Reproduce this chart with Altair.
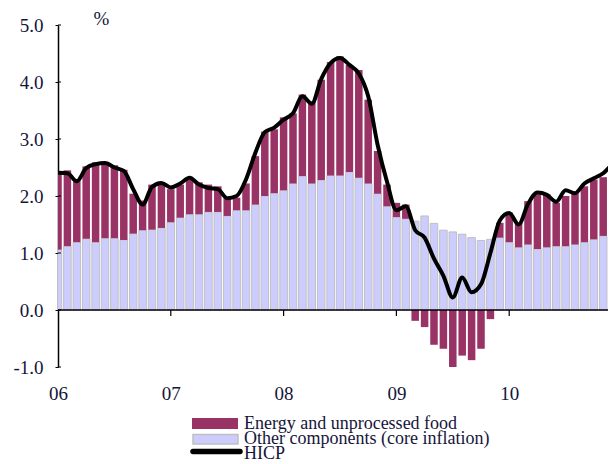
import altair as alt
import pandas as pd

# ---------------- data ----------------
years = ["06", "07", "08", "09", "10"]

# Other components (core inflation), contribution, monthly Jan-06 .. Dec-10
core = [
    1.06, 1.12, 1.19, 1.25, 1.19, 1.26, 1.26, 1.23, 1.34, 1.40, 1.41, 1.44,
    1.54, 1.62, 1.68, 1.68, 1.72, 1.72, 1.65, 1.75, 1.75, 1.85, 2.00, 2.05,
    2.10, 2.22, 2.35, 2.22, 2.28, 2.36, 2.36, 2.42, 2.32, 2.22, 2.04, 1.82,
    1.63, 1.60, 1.56, 1.65, 1.52, 1.40, 1.37, 1.33, 1.27, 1.22, 1.24, 1.27,
    1.19, 1.10, 1.15, 1.07, 1.10, 1.12, 1.12, 1.15, 1.19, 1.24, 1.30, 1.24,
]

# Energy and unprocessed food, contribution
energy = [
    1.37, 1.33, 1.10, 1.27, 1.40, 1.34, 1.28, 1.23, 0.70, 0.52, 0.79, 0.80,
    0.58, 0.58, 0.61, 0.56, 0.48, 0.45, 0.32, 0.22, 0.47, 0.85, 1.13, 1.12,
    1.28, 1.23, 1.43, 1.44, 1.76, 1.99, 2.09, 1.88, 1.89, 1.47, 0.75, 0.38,
    0.25, 0.25, -0.19, -0.30, -0.61, -0.68, -1.00, -0.80, -0.88, -0.68, -0.16, 0.26,
    0.52, 0.43, 0.76, 0.96, 0.93, 0.76, 0.88, 0.90, 0.98, 1.05, 1.03, 1.24,
]

# HICP (line)
hicp = [
    2.41, 2.40, 2.26, 2.49, 2.56, 2.58, 2.50, 2.44, 2.12, 1.85, 2.16, 2.23,
    2.15, 2.22, 2.32, 2.20, 2.14, 2.12, 1.96, 2.00, 2.29, 2.76, 3.12, 3.20,
    3.34, 3.45, 3.75, 3.62, 4.05, 4.33, 4.42, 4.30, 4.15, 3.75, 2.90, 2.25,
    1.75, 1.82, 1.40, 1.27, 0.90, 0.60, 0.22, 0.57, 0.31, 0.45, 1.00, 1.57,
    1.70, 1.50, 1.86, 2.06, 2.02, 1.90, 2.10, 2.05, 2.22, 2.31, 2.40, 2.57,
]

legend_labels = [
    "Energy and unprocessed food",
    "Other components (core inflation)",
    "HICP",
]
y_ticks = [-1.0, 0.0, 1.0, 2.0, 3.0, 4.0, 5.0]
unit_label = "%"

# ---------------- style ----------------
MAROON = "#993366"
LAVENDER = "#CCCCFF"
GREY = "#C0C0C0"
FONT = "Liberation Serif"
TXT = "#15153a"
FS = 19
LFS = 18

W, H = 550, 342
PX_PER_MONTH = 9.4

n = len(core)
df = pd.DataFrame({"m": list(range(n)), "core": core, "energy": energy, "hicp": hicp})
df["left"] = df["m"] - 0.4
df["right"] = df["m"] + 0.4
df["base"] = 0.0
df["e0"] = df["core"].where(df["energy"] >= 0, 0.0)
df["e1"] = df["e0"] + df["energy"]

xscale = alt.Scale(domain=[0, W / PX_PER_MONTH], nice=False, zero=False)
yscale = alt.Scale(domain=[-1, 5], nice=False, zero=False)

tick_vals = [12 * k for k in range(len(years))]
label_expr = "[" + ",".join("'%s'" % y for y in years) + "][round(datum.value/12)]"

x_axis = alt.Axis(
    values=tick_vals, labelExpr=label_expr, domain=False, ticks=False, tickSize=0,
    labelPadding=17, labelFont=FONT, labelFontSize=FS, labelColor=TXT,
    labelFlush=False, labelOverlap=False, labelBound=False, grid=False, title="",
)
y_axis = alt.Axis(
    values=y_ticks,
    labelExpr="(datum.value<0?'-':'')+format(abs(datum.value),'.1f')",
    domainColor="black", domainWidth=1.5, tickColor="black", tickSize=3, tickWidth=1,
    labelPadding=12, labelFont=FONT, labelFontSize=FS, labelColor=TXT,
    grid=False, title="",
)


def X(field):
    return alt.X(field, scale=xscale, axis=x_axis, title="")


def Y(field):
    return alt.Y(field, scale=yscale, axis=y_axis, title="")


core_bars = alt.Chart(df).mark_bar(
    color=LAVENDER, stroke=GREY, strokeWidth=1, clip=True
).encode(x=X("left:Q"), x2="right:Q", y=Y("base:Q"), y2="core:Q")

energy_bars = alt.Chart(df).mark_bar(color=MAROON, clip=True).encode(
    x=X("left:Q"), x2="right:Q", y=Y("e0:Q"), y2="e1:Q"
)

zero_line = alt.Chart(pd.DataFrame({"z": [0.0]})).mark_rule(
    color="black", strokeWidth=1.5
).encode(y=Y("z:Q"))

xt = pd.DataFrame({"t": tick_vals[1:], "y0": [0.0] * (len(tick_vals) - 1),
                   "y1": [-0.105] * (len(tick_vals) - 1)})
x_ticks = alt.Chart(xt).mark_rule(color="black", strokeWidth=1.2).encode(
    x=X("t:Q"), y=Y("y0:Q"), y2="y1:Q"
)

y_in_ticks = alt.Chart(pd.DataFrame({"v": y_ticks})).mark_rule(
    color="black", strokeWidth=1
).encode(y=Y("v:Q"), x=alt.value(0), x2=alt.value(3))

hicp_line = alt.Chart(df).mark_line(
    color="black", strokeWidth=4, interpolate="monotone",
    strokeCap="round", strokeJoin="round", clip=True,
).encode(x=X("m:Q"), y=Y("hicp:Q"))

one = pd.DataFrame({"a": [0]})
pct = alt.Chart(one).mark_text(
    text=unit_label, font=FONT, fontSize=FS, color=TXT, align="center", baseline="alphabetic"
).encode(x=alt.value(43.5), y=alt.value(0))

sw1 = alt.Chart(one).mark_rect(color=MAROON).encode(
    x=alt.value(134), x2=alt.value(180), y=alt.value(393), y2=alt.value(404))
sw2 = alt.Chart(one).mark_rect(color=LAVENDER, stroke=GREY, strokeWidth=1.5).encode(
    x=alt.value(135), x2=alt.value(180), y=alt.value(409.5), y2=alt.value(419))
sw3 = alt.Chart(one).mark_rule(color="black", strokeWidth=5.5, strokeCap="round").encode(
    x=alt.value(135), x2=alt.value(182), y=alt.value(426.5))


def leg_text(label, y):
    return alt.Chart(one).mark_text(
        text=label, font=FONT, fontSize=LFS, color=TXT, align="left", baseline="alphabetic"
    ).encode(x=alt.value(186), y=alt.value(y))


chart = alt.layer(
    core_bars, energy_bars, zero_line, x_ticks, y_in_ticks, hicp_line, pct,
    sw1, sw2, sw3,
    leg_text(legend_labels[0], 403.5),
    leg_text(legend_labels[1], 419),
    leg_text(legend_labels[2], 434),
).properties(
    width=W, height=H,
    autosize=alt.AutoSizeParams(type="none"),
    padding={"left": 50, "top": 17, "right": 0, "bottom": 96},
).configure_view(strokeWidth=0)

chart.save("out.html", embed_options={"renderer": "svg", "actions": False})
